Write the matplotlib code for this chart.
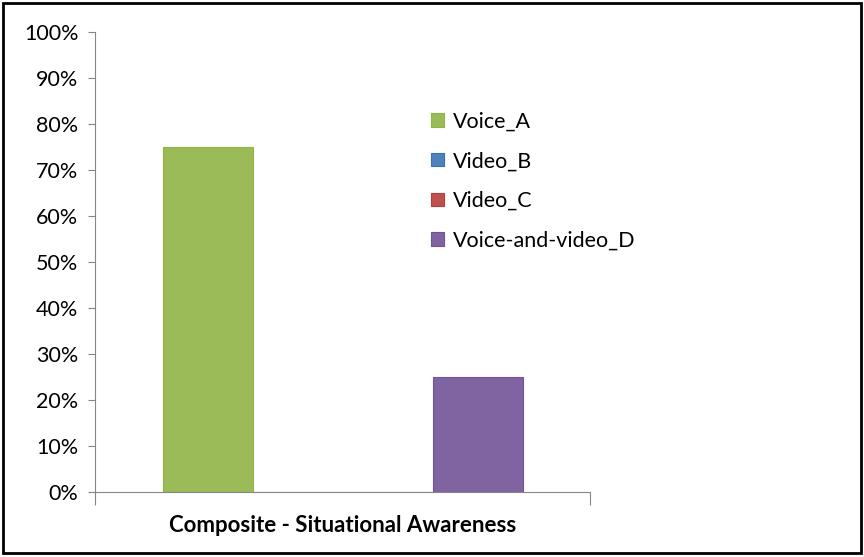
import numpy as np
import matplotlib.pyplot as plt
from matplotlib.patches import Rectangle
from matplotlib.ticker import PercentFormatter

plt.rcParams['font.family'] = ['Lato', 'DejaVu Sans']

series = ["Voice_A", "Video_B", "Video_C", "Voice-and-video_D"]
values = [75, 0, 0, 25]
colors = ["#9BBB59", "#4F81BD", "#C0504D", "#8064A2"]
edges = ["#8DB543", "#3C6FAE", "#B03E3B", "#6F5495"]
category = "Composite - Situational Awareness"

fig = plt.figure(figsize=(8.64, 5.57), dpi=100)
ax = fig.add_axes([0.110, 0.1167, 0.573, 0.8258])

w = 0.1818
offsets = (np.arange(len(series)) - 1.5) * w
for off, v, c, e, s in zip(offsets, values, colors, edges, series):
    ax.bar(off, v, width=w, color=c, edgecolor=e, linewidth=0.8, label=s)

ax.set_xlim(-0.5, 0.5)
ax.set_ylim(0, 100)
ax.set_yticks(np.arange(0, 101, 10))
ax.yaxis.set_major_formatter(PercentFormatter(decimals=0))
ax.set_xticks([-0.5, 0.5])
ax.set_xticklabels([])
ax.tick_params(axis='x', length=9, color='#868686', direction='out')
ax.tick_params(axis='y', length=5, color='#868686', direction='out', labelsize=15.5, pad=7)
for side in ['top', 'right']:
    ax.spines[side].set_visible(False)
for side in ['left', 'bottom']:
    ax.spines[side].set_color('#868686')
ax.set_xlabel(category, fontsize=16, fontweight='bold', labelpad=4)

fig.legend(loc='upper left', bbox_to_anchor=(0.499, 0.80), frameon=False,
           fontsize=15.5, handlelength=0.6, handleheight=0.6, labelspacing=0.92,
           handletextpad=0.42, borderpad=0, borderaxespad=0)

fig.patches.append(Rectangle((0.004, 0.008), 0.992, 0.986, transform=fig.transFigure,
                             fill=False, edgecolor='black', linewidth=2))

fig.savefig("out.png", dpi=100)
